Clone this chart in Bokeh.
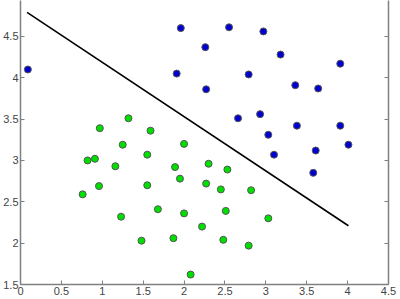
from bokeh.plotting import figure
from bokeh.models import Range1d, FixedTicker, LinearAxis, CustomJSTickFormatter
from bokeh.embed import file_html
from bokeh.resources import INLINE

blue_x = [0.09, 1.91, 1.96, 2.55, 2.97, 2.26, 3.18, 3.91, 2.79, 2.27, 3.36,
          3.64, 2.66, 2.93, 3.38, 3.91, 3.03, 3.61, 4.01, 3.10, 3.58]
blue_y = [4.10, 4.05, 4.60, 4.61, 4.56, 4.37, 4.28, 4.17, 4.04, 3.86, 3.91,
          3.87, 3.51, 3.56, 3.42, 3.42, 3.31, 3.12, 3.19, 3.07, 2.85]

green_x = [0.97, 1.32, 1.59, 1.25, 2.00, 0.82, 0.91, 1.55, 1.16, 1.89, 1.95,
           0.96, 0.76, 1.55, 1.68, 1.23, 2.00, 1.48, 1.87, 2.08, 2.30, 2.53,
           2.27, 2.45, 2.82, 2.51, 3.03, 2.22, 2.48, 2.79]
green_y = [3.39, 3.51, 3.36, 3.19, 3.20, 3.00, 3.02, 3.07, 2.93, 2.92, 2.78,
           2.69, 2.59, 2.70, 2.41, 2.32, 2.36, 2.03, 2.06, 1.62, 2.96, 2.89,
           2.72, 2.65, 2.64, 2.39, 2.30, 2.20, 2.04, 1.97]

line_x = [0.08, 4.01]
line_y = [4.79, 2.21]

x_ticks = [0, 0.5, 1, 1.5, 2, 2.5, 3, 3.5, 4, 4.5]
y_ticks = [1.5, 2, 2.5, 3, 3.5, 4, 4.5]

p = figure(width=400, height=299, output_backend="svg", toolbar_location=None,
           x_range=Range1d(0, 4.5), y_range=Range1d(1.5, 4.934),
           min_border_left=20, min_border_right=12, min_border_top=0,
           min_border_bottom=15)
p.outline_line_color = None
p.grid.visible = False
p.background_fill_color = "white"
p.border_fill_color = "white"

fmt = CustomJSTickFormatter(code="return tick.toString();")

right = LinearAxis()
p.add_layout(right, "right")

for ax in [p.xaxis[0], p.yaxis[0], right]:
    ax.axis_line_color = "#808080"
    ax.axis_line_width = 1.5
    ax.major_tick_line_color = "#808080"
    ax.major_tick_in = 4
    ax.major_tick_out = 0
    ax.minor_tick_line_color = None
    ax.major_label_text_font = "Liberation Sans"
    ax.major_label_text_font_size = "11px"
    ax.major_label_text_color = "#444444"
    ax.major_label_standoff = 2
    ax.formatter = fmt

p.xaxis[0].ticker = FixedTicker(ticks=x_ticks)
p.yaxis[0].ticker = FixedTicker(ticks=y_ticks)
right.ticker = FixedTicker(ticks=y_ticks)
right.formatter = CustomJSTickFormatter(code="return '';")
right.major_label_standoff = 0

p.line(line_x, line_y, line_color="black", line_width=1.6)
p.scatter(blue_x, blue_y, size=7, fill_color="#0000d0", line_color="#555555",
          line_width=1)
p.scatter(green_x, green_y, size=7, fill_color="#00e000", line_color="#555555",
          line_width=1)

open("out.html", "w").write(file_html(p, INLINE))
